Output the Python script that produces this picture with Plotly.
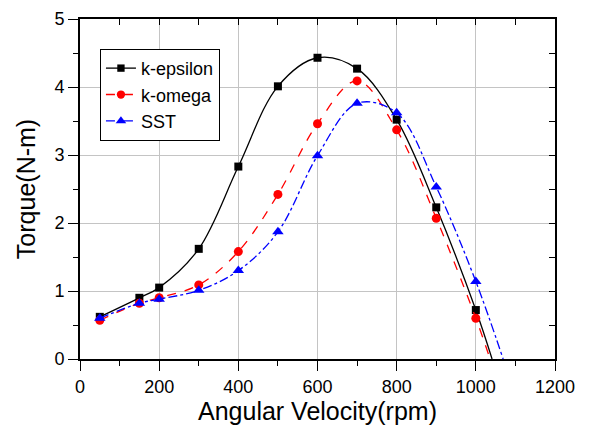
import plotly.graph_objects as go

rpm = [50, 150, 200, 300, 400, 500, 600, 700, 800, 900, 1000]
k_epsilon = [0.62, 0.90, 1.05, 1.62, 2.83, 4.01, 4.43, 4.27, 3.52, 2.23, 0.72]
k_omega = [0.57, 0.82, 0.90, 1.09, 1.58, 2.42, 3.46, 4.09, 3.37, 2.07, 0.60]
sst = [0.60, 0.82, 0.88, 1.01, 1.30, 1.87, 2.99, 3.76, 3.62, 2.53, 1.14]

# where each fitted curve leaves the plot at zero torque
end_rpm = {"k-epsilon": 1041, "k-omega": 1036, "SST": 1069}
end_torque = 0.0

x_ticks = [0, 200, 400, 600, 800, 1000, 1200]
y_ticks = [0, 1, 2, 3, 4, 5]

series = [
    ("k-epsilon", k_epsilon, "black", "solid", "square", 8),
    ("k-omega", k_omega, "red", "dash", "circle", 9),
    ("SST", sst, "blue", "dashdot", "triangle-up", 10),
]

fig = go.Figure()
for name, vals, color, dash, sym, ms in series:
    xs = rpm + [end_rpm[name]]
    ys = vals + [end_torque]
    fig.add_trace(go.Scatter(
        x=xs, y=ys, name=name, mode="lines+markers",
        line=dict(color=color, width=1.3, dash=dash, shape="spline", smoothing=1.0),
        marker=dict(color=color, symbol=sym, size=[ms] * len(rpm) + [0],
                    opacity=1, line=dict(width=0)),
        cliponaxis=True,
    ))

fig.add_trace(go.Scatter(x=[], y=[], xaxis="x2", yaxis="y2", showlegend=False))

font = "Arial, 'Liberation Sans', sans-serif"
fig.update_layout(
    width=583, height=419,
    margin=dict(l=72, r=36, t=11, b=68, autoexpand=False),
    paper_bgcolor="white", plot_bgcolor="white",
    font=dict(family=font, color="black"),
    showlegend=True,
    legend=dict(x=0.042, y=0.912, xanchor="left", yanchor="top",
                bordercolor="black", borderwidth=1, bgcolor="white",
                font=dict(size=18, family=font), tracegroupgap=0),
    xaxis=dict(range=[0, 1200], tickvals=x_ticks, ticks="outside", ticklen=10, tickwidth=1.3,
               tickcolor="black", showline=True, linecolor="black", linewidth=2, mirror=True,
               showgrid=True, gridcolor="#c4c4c4", gridwidth=1, zeroline=False, automargin=False,
               tickfont=dict(size=18), title=dict(text="Angular Velocity(rpm)", font=dict(size=25), standoff=0),
               minor=dict(ticks="outside", ticklen=5, dtick=100, tickcolor="black", showgrid=False)),
    yaxis=dict(range=[0, 5], tickvals=y_ticks, ticks="outside", ticklen=10, tickwidth=1.3,
               tickcolor="black", showline=True, linecolor="black", linewidth=2, mirror=True,
               showgrid=True, gridcolor="#c4c4c4", gridwidth=1, zeroline=False, automargin=False,
               tickfont=dict(size=18), title=dict(text="Torque(N-m)", font=dict(size=25), standoff=12),
               minor=dict(ticks="outside", ticklen=5, dtick=0.5, tickcolor="black", showgrid=False)),
    xaxis2=dict(range=[0, 1200], overlaying="x", side="top", anchor="y", dtick=100, tick0=0,
                ticks="inside", ticklen=6, tickwidth=1.3, tickcolor="black", automargin=False,
                showticklabels=False, showgrid=False, zeroline=False, showline=False),
    yaxis2=dict(range=[0, 5], overlaying="y", side="right", anchor="x", dtick=0.5, tick0=0,
                ticks="inside", ticklen=6, tickwidth=1.3, tickcolor="black", automargin=False,
                showticklabels=False, showgrid=False, zeroline=False, showline=False),
)

fig.write_html("out.html")
